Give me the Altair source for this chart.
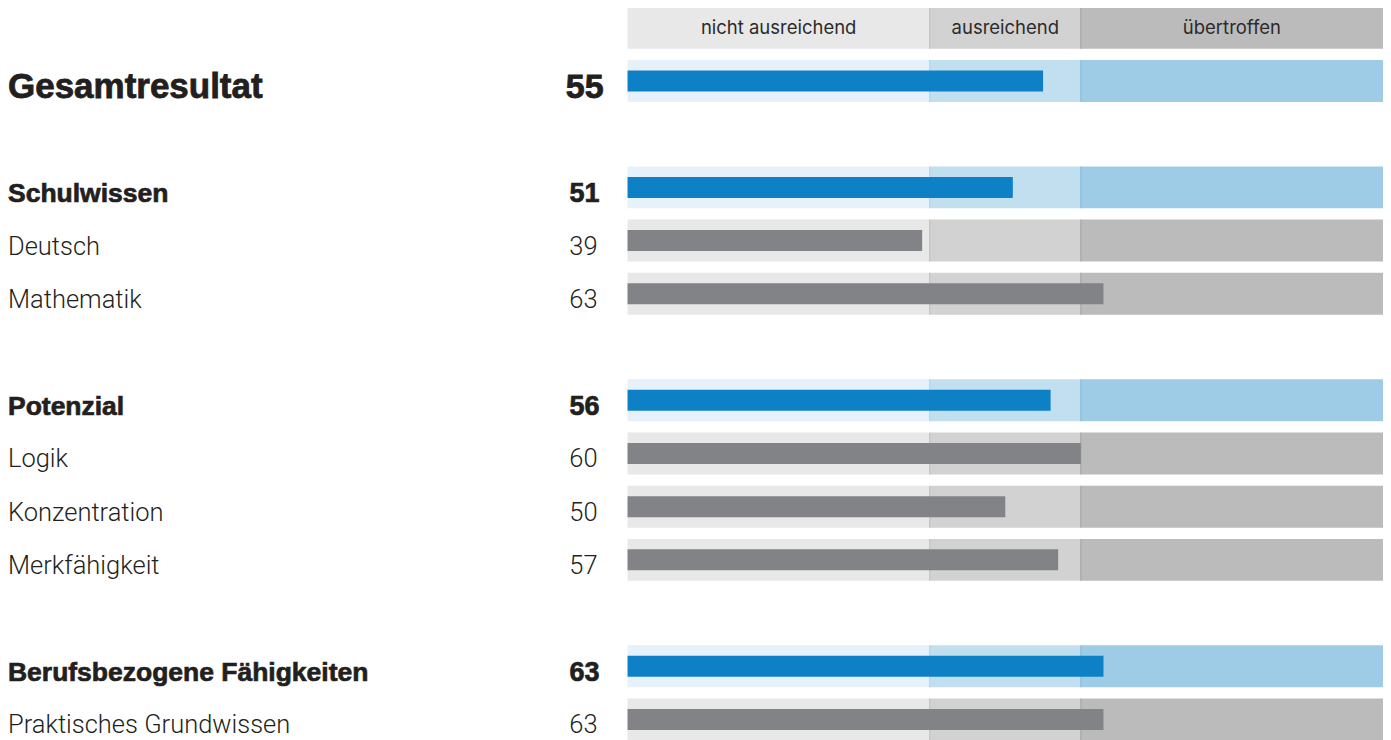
import altair as alt
import pandas as pd

# ---------------- data ----------------
labels = ["Gesamtresultat", "Schulwissen", "Deutsch", "Mathematik", "Potenzial",
          "Logik", "Konzentration", "Merkfähigkeit",
          "Berufsbezogene Fähigkeiten", "Praktisches Grundwissen"]
values = [55, 51, 39, 63, 56, 60, 50, 57, 63, 63]
levels = ["total", "group", "sub", "sub", "group", "sub", "sub", "sub", "group", "sub"]

band_names = ["nicht ausreichend", "ausreichend", "übertroffen"]
band_starts = [0, 40, 60]
band_ends = [40, 60, 100]
thresholds = [40, 60]

HEADER = "header"
# row order incl. blank spacer rows between the groups
row_order = [HEADER, labels[0], " ", labels[1], labels[2], labels[3], "  ",
             labels[4], labels[5], labels[6], labels[7], "   ", labels[8], labels[9]]

# ---------------- styles ----------------
blue_bands = ["#e6f1f9", "#c2dff0", "#9ecce6"]
gray_bands = ["#e8e8e8", "#d2d2d2", "#bbbbbb"]
blue_seps = ["#a9d3ec", "#7db9de"]
gray_seps = ["#bcbcbc", "#a0a0a0"]
blue_bar = "#0e80c6"
gray_bar = "#828387"
text_col = "#231f20"

def is_blue(lvl):
    return lvl in ("total", "group")

bg_rows, sep_rows = [], []
for r, lvl in zip([HEADER] + labels, ["header"] + levels):
    pal = blue_bands if is_blue(lvl) else gray_bands
    seps = blue_seps if is_blue(lvl) else gray_seps
    for s, e, c in zip(band_starts, band_ends, pal):
        bg_rows.append({"row": r, "start": s, "end": e, "fill": c})
    for t, c in zip(thresholds, seps):
        sep_rows.append({"row": r, "thr": t, "fill": c})
bg_df = pd.DataFrame(bg_rows)
sep_df = pd.DataFrame(sep_rows)

bar_df = pd.DataFrame({
    "row": labels,
    "value": values,
    "level": levels,
    "label": [str(v) for v in values],
    "fill": [blue_bar if is_blue(l) else gray_bar for l in levels],
})

head_df = pd.DataFrame({
    "row": [HEADER] * len(band_names),
    "name": band_names,
    "mid": [(s + e) / 2 for s, e in zip(band_starts, band_ends)],
})

# ---------------- scales ----------------
xscale = alt.Scale(domain=[0, 100], range=[620, 1376], zero=False, nice=False)
yscale = alt.Scale(domain=row_order, range=[-1.5, 732.75], paddingInner=0.2113, paddingOuter=0)

Y = alt.Y("row:N", scale=yscale, axis=None, sort=None)

bg = alt.Chart(bg_df).mark_rect().encode(
    x=alt.X("start:Q", scale=xscale, axis=None),
    x2="end:Q",
    y=Y,
    color=alt.Color("fill:N", scale=None),
)

seps = alt.Chart(sep_df).mark_tick(thickness=1, size=42, opacity=1).encode(
    x=alt.X("thr:Q", scale=xscale, axis=None),
    y=Y,
    color=alt.Color("fill:N", scale=None),
)

bars = alt.Chart(bar_df).mark_bar(size=21).encode(
    x=alt.X("value:Q", scale=xscale, axis=None),
    y=Y,
    color=alt.Color("fill:N", scale=None),
)

head_text = alt.Chart(head_df).mark_text(
    font="Inter", fontSize=18.5, color="#2b2b2b", baseline="alphabetic", dy=6
).encode(
    x=alt.X("mid:Q", scale=xscale, axis=None),
    y=Y,
    text="name:N",
)

def label_layer(level, font, size, weight, dy, sw=0):
    kw = dict(stroke=text_col, strokeWidth=sw) if sw else {}
    return alt.Chart(bar_df).transform_filter(
        alt.datum.level == level
    ).mark_text(
        font=font, fontSize=size, fontWeight=weight, color=text_col,
        align="left", baseline="alphabetic", dy=dy, **kw
    ).encode(x=alt.value(0), y=Y, text="row:N")

def number_layer(level, font, size, weight, dy, xr, sw=0):
    kw = dict(stroke=text_col, strokeWidth=sw) if sw else {}
    return alt.Chart(bar_df).transform_filter(
        alt.datum.level == level
    ).mark_text(
        font=font, fontSize=size, fontWeight=weight, color=text_col,
        align="right", baseline="alphabetic", dy=dy, **kw
    ).encode(x=alt.value(xr), y=Y, text="label:N")

layers = [
    bg, seps, bars, head_text,
    label_layer("total", "Liberation Sans", 35, "bold", 17, 0.8),
    label_layer("group", "Liberation Sans", 26.5, "bold", 15, 0.7),
    label_layer("sub", "Roboto", 25.5, 300, 14),
    number_layer("total", "Liberation Sans", 34, "bold", 17, 596, 0.8),
    number_layer("group", "Liberation Sans", 27, "bold", 15, 592, 0.7),
    number_layer("sub", "Roboto", 25.5, 300, 14, 590),
]

chart = alt.layer(*layers).properties(
    width=1376, height=732, padding=0, autosize="none"
).configure_view(stroke=None)

chart.save("out.html", embed_options={"renderer": "svg", "actions": False})
